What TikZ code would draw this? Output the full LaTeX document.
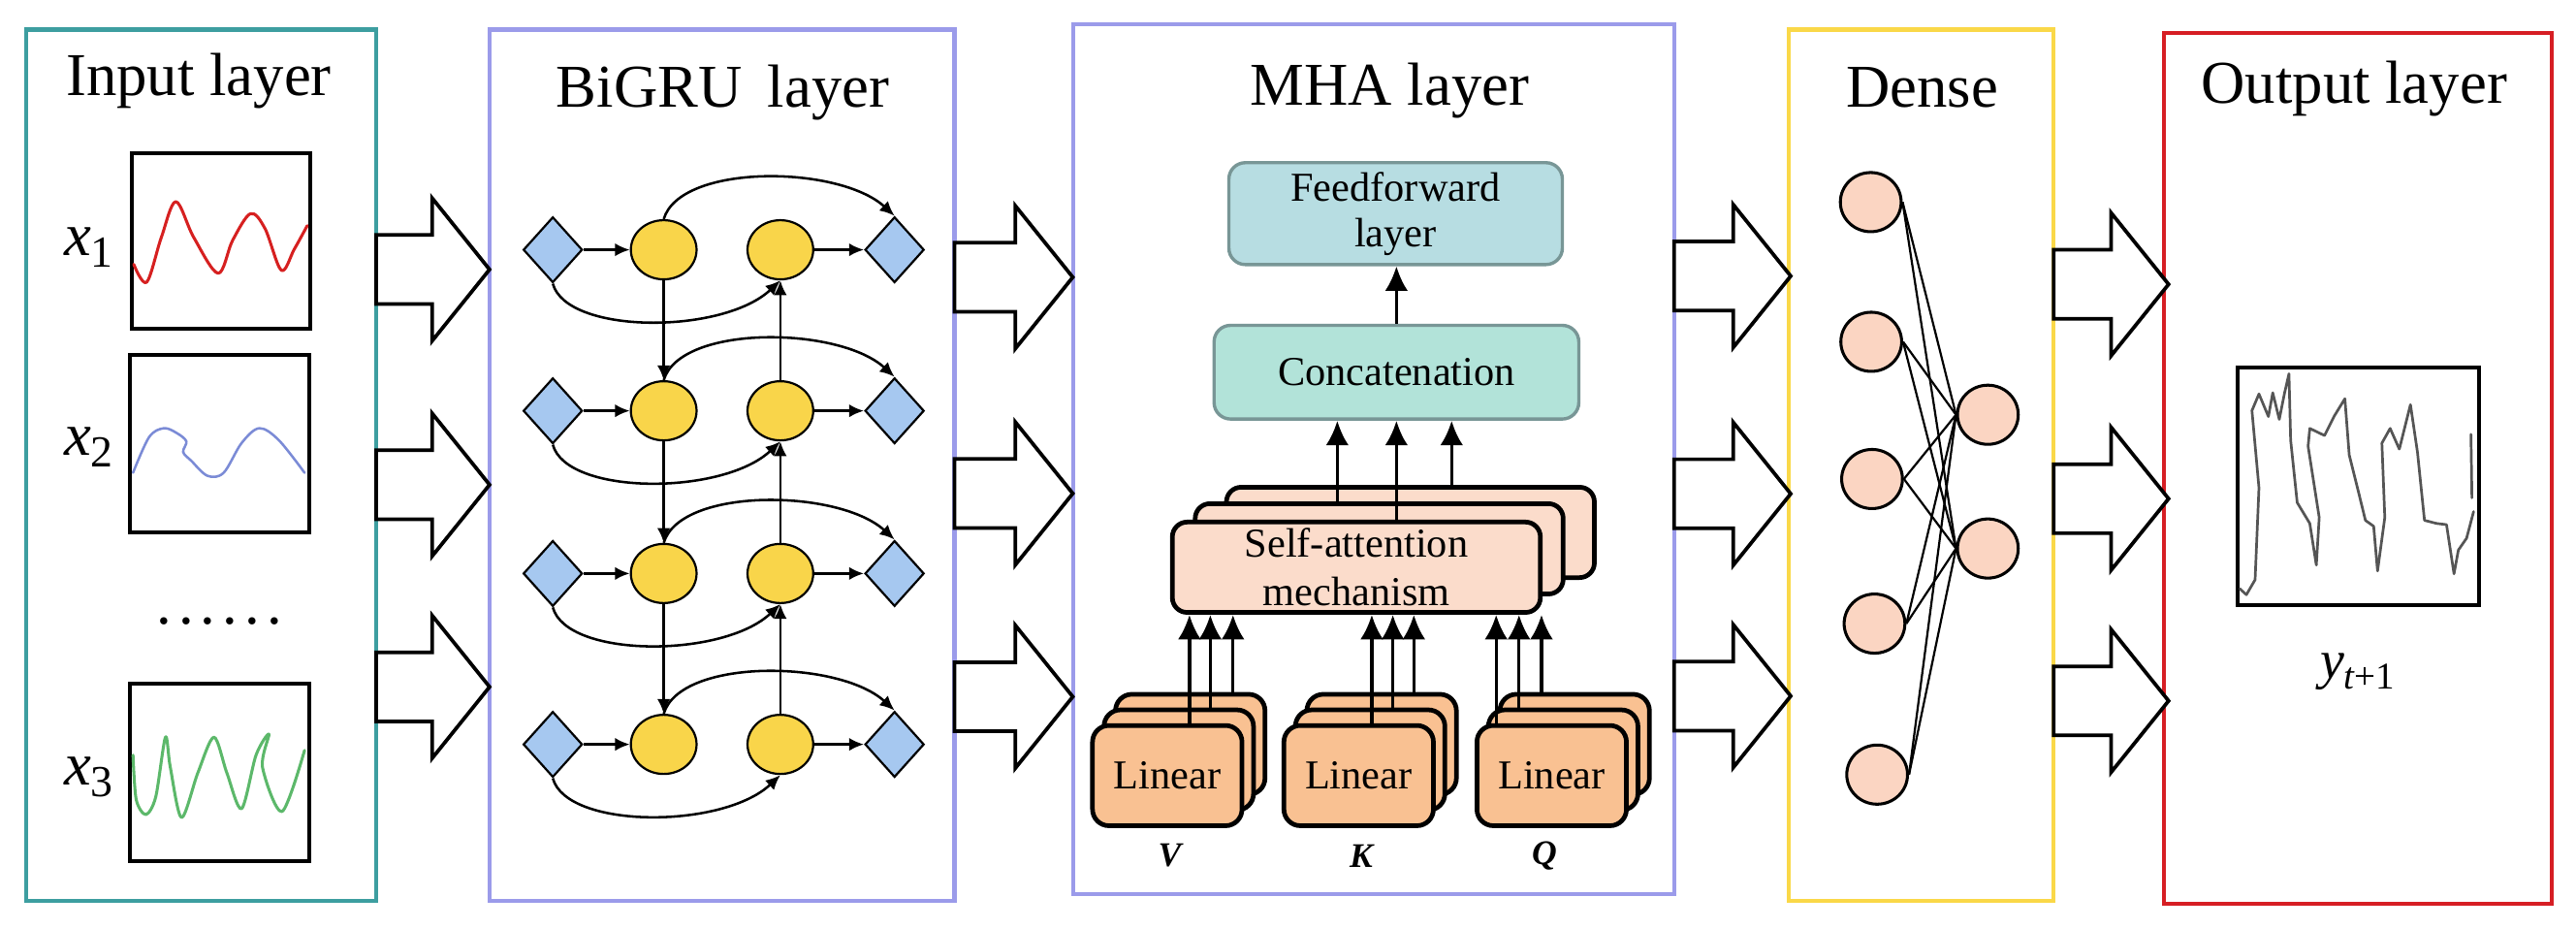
\documentclass[tikz,border=0pt]{standalone}
\usepackage{fontspec}
\setmainfont{Liberation Serif}
\usetikzlibrary{shapes.geometric,arrows.meta,calc}
\definecolor{cteal}{RGB}{61,158,160}
\definecolor{clav}{RGB}{155,155,234}
\definecolor{cgold}{RGB}{250,216,72}
\definecolor{cred}{RGB}{214,30,36}
\definecolor{cdiam}{RGB}{166,200,240}
\definecolor{cyel}{RGB}{249,213,74}
\definecolor{cff}{RGB}{183,221,226}
\definecolor{ccat}{RGB}{178,227,217}
\definecolor{cboxgray}{RGB}{120,150,150}
\definecolor{csa}{RGB}{251,220,203}
\definecolor{clin}{RGB}{249,193,146}
\definecolor{cneu}{RGB}{251,213,194}
\definecolor{wred}{RGB}{214,32,32}
\definecolor{wblue}{RGB}{123,139,214}
\definecolor{wgreen}{RGB}{92,184,106}
\definecolor{wgray}{RGB}{85,85,85}
\newcommand\hollowarrow[3]{%
  \draw[hollow] (#1,#3-21) -- (#2-35,#3-21) -- (#2-35,#3-43.5) -- (#2,#3)
    -- (#2-35,#3+43.5) -- (#2-35,#3+21) -- (#1,#3+21) -- cycle;}
\begin{document}
\begin{tikzpicture}[x=1pt,y=-1pt,
  layer/.style={draw, line width=2.4pt, inner sep=0pt, outer sep=0pt},
  title/.style={anchor=base, inner sep=0pt, font=\fontsize{37}{44}\selectfont},
  plotbox/.style={draw, line width=2.4pt, inner sep=0pt, outer sep=0pt},
  hollow/.style={draw, fill=white, line width=2.2pt, line join=miter},
  dia/.style={diamond, draw, fill=cdiam, line width=1.3pt, minimum width=36pt, minimum height=40pt, inner sep=0pt},
  gru/.style={ellipse, draw, fill=cyel, line width=1.3pt, minimum width=40pt, minimum height=36pt, inner sep=0pt},
  barr/.style={-{Latex[length=9pt,width=8pt]}, line width=1.5pt},
  marr/.style={-{Latex[length=15pt,width=14pt]}, line width=2pt},
  sabox/.style={draw, line width=2.8pt, fill=csa, rounded corners=9pt, minimum width=224pt, minimum height=55pt, inner sep=0pt},
  linbox/.style={draw, line width=2.8pt, fill=clin, rounded corners=10pt, minimum width=91pt, minimum height=61pt, inner sep=0pt, font=\fontsize{25}{28}\selectfont},
  neu/.style={ellipse, draw, fill=cneu, line width=1.8pt, minimum width=37pt, minimum height=36pt, inner sep=0pt},
  dline/.style={line width=1.3pt},
  wave/.style={line width=1.8pt, line join=round, line cap=round}
]
\useasboundingbox (0,0) rectangle (1568,565);

% ---------- layer boxes ----------
\node[layer, draw=cteal, minimum width=213pt, minimum height=530pt] (Lin) at (122.5,283) {};
\node[layer, draw=clav, minimum width=283pt, minimum height=530pt] (Lbi) at (439.5,283) {};
\node[layer, draw=clav, minimum width=366pt, minimum height=529pt] (Lmha) at (836,279.5) {};
\node[layer, draw=cgold, minimum width=161pt, minimum height=530pt] (Lden) at (1169.5,283) {};
\node[layer, draw=cred, minimum width=236pt, minimum height=530pt] (Lout) at (1435,285) {};

% ---------- titles ----------
\node[title] (t1) at (121,58) {Input layer};
\node[title] (t2) at (440,65) {BiGRU\hspace{0.42em}layer};
\node[title] (t3) at (846,64) {MHA layer};
\node[title] (t4) at (1170,65) {Dense};
\node[title] (t5) at (1433,63) {Output layer};

% ---------- input layer ----------
\node[plotbox, minimum width=109pt, minimum height=107pt] (P1) at (134.5,146.5) {};
\node[plotbox, minimum width=109pt, minimum height=108pt] (P2) at (133.5,270) {};
\node[plotbox, minimum width=109pt, minimum height=108pt] (P3) at (133.5,470) {};

\begin{scope}[shift={(P1.north west)}, x=109pt, y=-107pt]
\draw[wave, wred] plot[smooth, tension=0.55] coordinates {(0.013,0.634) (0.085,0.736) (0.167,0.481) (0.248,0.278) (0.348,0.481) (0.484,0.685) (0.565,0.498) (0.665,0.346) (0.746,0.431) (0.837,0.668) (0.909,0.549) (0.982,0.414)};
\end{scope}
\begin{scope}[shift={(P2.north west)}, x=109pt, y=-108pt]
\draw[wave, wblue, line width=1.5pt] plot[smooth, tension=0.55] coordinates {(0.018,0.664) (0.108,0.463) (0.19,0.413) (0.262,0.44) (0.316,0.487) (0.298,0.547) (0.344,0.597) (0.434,0.681) (0.524,0.664) (0.624,0.497) (0.723,0.413) (0.832,0.48) (0.976,0.664)};
\end{scope}
\begin{scope}[shift={(P3.north west)}, x=109pt, y=-108pt]
\draw[wave, wgreen] plot[smooth, tension=0.5] coordinates {(0.018,0.403) (0.036,0.654) (0.09,0.738) (0.145,0.638) (0.199,0.302) (0.226,0.47) (0.289,0.755) (0.38,0.503) (0.47,0.302) (0.542,0.503) (0.624,0.705) (0.705,0.403) (0.777,0.285) (0.741,0.47) (0.85,0.721) (0.976,0.376)};
\end{scope}

\node[anchor=base, inner sep=0pt, font=\fontsize{37}{44}\selectfont] (x1) at (54,155.7) {\itshape x\raisebox{-7pt}{\fontsize{27}{27}\selectfont\upshape 1}};
\node[anchor=base, inner sep=0pt, font=\fontsize{37}{44}\selectfont] (x2) at (54,277) {\itshape x\raisebox{-7pt}{\fontsize{27}{27}\selectfont\upshape 2}};
\node[anchor=base, inner sep=0pt, font=\fontsize{37}{44}\selectfont] (x3) at (54,478) {\itshape x\raisebox{-7pt}{\fontsize{27}{27}\selectfont\upshape 3}};
\node[anchor=base, inner sep=0pt, font=\fontsize{37}{44}\selectfont] (dots) at (133.5,380) {.\kern4.2pt.\kern4.2pt.\kern4.2pt.\kern4.2pt.\kern4.2pt.};

% ---------- hollow arrows ----------
\foreach \yc in {164,295,418} {\hollowarrow{229}{298}{\yc}}
\foreach \yc in {168.7,300.3,424} {\hollowarrow{581}{653}{\yc}}
\foreach \yc in {168,300.5,423.6} {\hollowarrow{1019}{1090}{\yc}}
\foreach \yc in {173,303.5,426.5} {\hollowarrow{1250}{1320}{\yc}}

% ---------- BiGRU ----------
\foreach \yy [count=\i] in {152,250,349,453} {
  \node[dia] (dl\i) at (336.5,\yy) {};
  \node[gru] (ca\i) at (404,\yy) {};
  \node[gru] (cb\i) at (475,\yy) {};
  \node[dia] (dr\i) at (544.5,\yy) {};
}
\foreach \i in {1,...,4} {
  \draw[barr] (dl\i.east) -- (ca\i.west);
  \draw[barr] (cb\i.east) -- (dr\i.west);
  \draw[barr] (ca\i.north) .. controls +(10,-34) and +(-34,-31) .. (dr\i.north);
  \draw[barr] (dl\i.south) .. controls +(8.5,31) and +(-35,33) .. (cb\i.south);
}
\foreach \i/\j in {1/2,2/3,3/4} {
  \draw[barr] (ca\i.south) -- (ca\j.north);
  \draw[barr] (cb\j.north) -- (cb\i.south);
}

% ---------- MHA ----------
\node[draw=cboxgray, line width=2pt, fill=cff, rounded corners=10pt, minimum width=203pt, minimum height=62pt, inner sep=0pt, align=center, font=\fontsize{25}{27.6}\selectfont] (FF) at (849.5,130) {Feedforward\\layer};
\node[draw=cboxgray, line width=2pt, fill=ccat, rounded corners=10pt, minimum width=222pt, minimum height=57pt, inner sep=0pt, font=\fontsize{25}{28}\selectfont] (Cat) at (850,226.5) {Concatenation};

\node[sabox] (SAb) at (858.5,324) {};
\node[sabox] (SAm) at (839.5,334) {};
\node[sabox, align=center, font=\fontsize{25}{29.5}\selectfont] (SAf) at (825.6,345.2) {Self-attention\\mechanism};

\foreach \g/\cx in {V/710.5,K/827,Q/944.5} {
  \node[linbox] (\g b) at (\cx+14,453) {};
  \node[linbox] (\g m) at (\cx+7,462.5) {};
  \node[linbox] (\g f) at (\cx,472) {Linear};
}
\node[inner sep=0pt, font=\fontsize{21}{24}\selectfont\bfseries\itshape] (lV) at (712,520.5) {V};
\node[inner sep=0pt, font=\fontsize{21}{24}\selectfont\bfseries\itshape] (lK) at (828.5,521) {K};
\node[inner sep=0pt, font=\fontsize{21}{24}\selectfont\bfseries\itshape] (lQ) at (940,521) {Q};

% arrows linear -> self-attention
\coordinate (a1) at ([xshift=13.5pt]Vf.north);
\coordinate (a2) at ([xshift=19.2pt]Vm.north);
\coordinate (a3) at ([xshift=26pt]Vb.north);
\coordinate (a4) at ([xshift=8pt]Kf.north);
\coordinate (a5) at ([xshift=13.8pt]Km.north);
\coordinate (a6) at ([xshift=19.6pt]Kb.north);
\coordinate (a7) at ([xshift=-33.8pt]Qf.north);
\coordinate (a8) at ([xshift=-26.9pt]Qm.north);
\coordinate (a9) at ([xshift=-20.2pt]Qb.north);
\foreach \k in {1,...,9} {\draw[marr] (a\k) -- (a\k |- SAf.south);}

% arrows self-attention -> concatenation
\coordinate (b1) at ([xshift=-25.5pt]SAm.north);
\coordinate (b2) at ([xshift=24.4pt]SAf.north);
\coordinate (b3) at ([xshift=25.1pt]SAb.north);
\foreach \k in {1,2,3} {\draw[marr] (b\k) -- (b\k |- Cat.south);}
\draw[marr] (Cat.north) -- (Cat.north |- FF.south);

% ---------- Dense ----------
\node[neu] (n1) at (1138.7,123) {};
\node[neu] (n2) at (1139,208) {};
\node[neu] (n3) at (1139.5,291.5) {};
\node[neu] (n4) at (1141,379.5) {};
\node[neu] (n5) at (1142.6,471.4) {};
\node[neu] (m1) at (1210,252.4) {};
\node[neu] (m2) at (1210,333.8) {};
\foreach \i in {1,...,5} {\foreach \j in {1,2} {\draw[dline] (n\i.east) -- (m\j.west);}}

% ---------- Output ----------
\node[plotbox, minimum width=147.3pt, minimum height=144.6pt] (PO) at (1435.4,295.7) {};
\begin{scope}[shift={(PO.north west)}, x=147.3pt, y=-144.6pt]
\draw[wave, wgray, line width=1.6pt] plot coordinates {(0.011,0.933) (0.038,0.958) (0.074,0.895) (0.09,0.508) (0.061,0.183) (0.09,0.113) (0.129,0.208) (0.147,0.108) (0.174,0.22) (0.196,0.108) (0.214,0.028) (0.221,0.308) (0.248,0.57) (0.3,0.658) (0.327,0.833) (0.339,0.633) (0.293,0.333) (0.3,0.258) (0.361,0.288) (0.4,0.208) (0.445,0.133) (0.463,0.37) (0.497,0.508) (0.53,0.645) (0.564,0.67) (0.58,0.858) (0.61,0.633) (0.598,0.32) (0.632,0.258) (0.67,0.345) (0.716,0.158) (0.745,0.358) (0.774,0.645) (0.824,0.658) (0.865,0.663) (0.896,0.87) (0.914,0.77) (0.948,0.72) (0.977,0.608)};
\draw[wave, wgray, line width=1.6pt] (0.966,0.283) -- (0.97,0.55);
\end{scope}
\node[anchor=base, inner sep=0pt, font=\fontsize{33}{40}\selectfont] (yt) at (1435,412.7) {\itshape y\raisebox{-6.5pt}{\fontsize{23}{23}\selectfont t\upshape +1}};

\end{tikzpicture}
\end{document}
